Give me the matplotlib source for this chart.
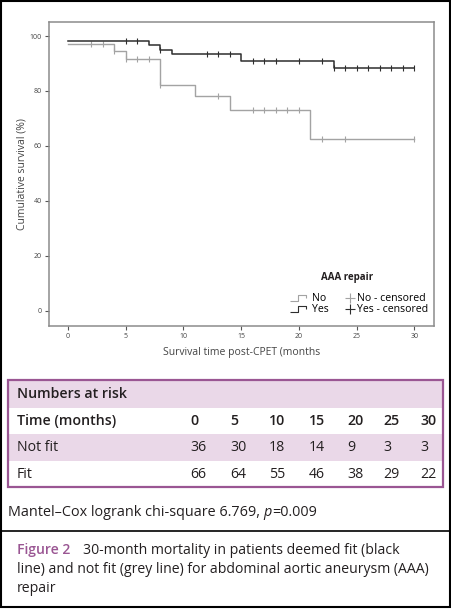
import matplotlib.pyplot as plt
import numpy as np
from matplotlib.lines import Line2D
from matplotlib.patches import Rectangle
from matplotlib.path import Path

plt.rcParams['font.family'] = ['Open Sans', 'DejaVu Sans']

# Kaplan-Meier curves: step times (months) and cumulative survival (%)
fit_t = [0, 7, 8, 9, 15, 23, 30]
fit_s = [98.3, 96.7, 95.0, 93.3, 91.0, 88.3, 88.3]
fit_cens = [5, 6, 8, 12, 13, 14, 16, 17, 18, 20, 22, 23, 24, 25, 26, 27, 28, 29, 30]

nofit_t = [0, 4, 5, 8, 11, 14, 21, 30]
nofit_s = [97.2, 94.4, 91.5, 82.2, 78.0, 72.9, 62.4, 62.4]
nofit_cens = [2, 3, 4, 5, 6, 7, 8, 13, 16, 17, 18, 19, 20, 22, 24, 30]

# numbers at risk table
risk_times = [0, 5, 10, 15, 20, 25, 30]
not_fit_risk = [36, 30, 18, 14, 9, 3, 3]
fit_risk = [66, 64, 55, 46, 38, 29, 22]

GREY = '#a3a3a3'
BLACK = '#2e2e2e'
PURPLE = '#9a5693'
PINK = '#ead8e8'
INK = '#231f20'

W, H = 451, 609
def fx(x):
    return x / W
def fy(y):
    return 1 - y / H

fig = plt.figure(figsize=(W / 100, H / 100), dpi=100)
ax = fig.add_axes([fx(49), fy(326), (434 - 49) / W, (326 - 22) / H])


def censor_levels(t, s, cens):
    idx = np.searchsorted(t, cens, side='right') - 1
    return np.array(s)[idx]


for t, s, cens, col, lw in [(nofit_t, nofit_s, nofit_cens, GREY, 1.0),
                            (fit_t, fit_s, fit_cens, BLACK, 1.1)]:
    ax.step(t, s, where='post', color=col, lw=lw)
    ax.plot(cens, censor_levels(t, s, cens), ls='none', marker='|',
            ms=5, mew=0.8, color=col)

ax.set_xlim(-1.65, 31.7)
ax.set_ylim(-5.6, 105.1)
ax.set_xticks(risk_times)
ax.set_yticks([0, 20, 40, 60, 80, 100])
ax.tick_params(labelsize=5, length=3, width=0.8, color='#555555',
               labelcolor='#444444', pad=2)
for sp in ax.spines.values():
    sp.set_color('#8c8c8c')
    sp.set_linewidth(1.1)
ax.set_ylabel('Cumulative survival (%)', fontsize=7.5, color='#444444', labelpad=2)
ax.set_xlabel('Survival time post-CPET (months', fontsize=7.5, color='#444444', labelpad=5)

# legend: two columns built as two legends
step_path = Path([(-1, -0.35), (0, -0.35), (0, 0.35), (1, 0.35), (1, 0)],
                 [Path.MOVETO, Path.LINETO, Path.LINETO, Path.LINETO, Path.LINETO])
line_handles = [
    Line2D([], [], ls='none', marker=step_path, ms=12, mew=0.8, mfc='none', mec=GREY),
    Line2D([], [], ls='none', marker=step_path, ms=12, mew=0.8, mfc='none', mec=BLACK),
]
cens_handles = [
    Line2D([], [], ls='none', marker='+', ms=7, mew=0.8, color=GREY),
    Line2D([], [], ls='none', marker='+', ms=7, mew=0.8, color=BLACK),
]
leg_kw = dict(fontsize=7.6, frameon=False, loc='lower left', borderpad=0,
              borderaxespad=0, labelspacing=0.0)
leg1 = ax.legend(line_handles, ['No', 'Yes'], bbox_to_anchor=(0.621, 0.035),
                 handlelength=1.8, handletextpad=0.45, **leg_kw)
ax.add_artist(leg1)
ax.legend(cens_handles, ['No - censored', 'Yes - censored'],
          bbox_to_anchor=(0.771, 0.035), handlelength=0.8, handletextpad=0.3, **leg_kw)
ax.text(0.774, 0.161, 'AAA repair', transform=ax.transAxes, ha='center',
        va='center', fontsize=7, fontweight='bold', color=INK)

# outer frame and divider
fig.add_artist(Rectangle((fx(1), fy(607)), fx(449), 606 / H, transform=fig.transFigure,
                         fill=False, ec='black', lw=1.5))
fig.add_artist(Line2D([fx(1), fx(450)], [fy(531), fy(531)], transform=fig.transFigure,
                      color='black', lw=1.2))

# numbers at risk table
rows = [380, 407.7, 434, 460.7, 487]
for i in range(4):
    if i % 2 == 0:
        fig.add_artist(Rectangle((fx(8), fy(rows[i + 1])), (443 - 8) / W,
                                 (rows[i + 1] - rows[i]) / H,
                                 transform=fig.transFigure, fc=PINK, ec='none'))
fig.add_artist(Rectangle((fx(8), fy(487)), (443 - 8) / W, (487 - 380) / H,
                         transform=fig.transFigure, fill=False, ec=PURPLE, lw=1.6))

col_x = [190, 230, 269, 309, 347, 383, 420]
fs = 10.2
fig.text(fx(17), fy(394), 'Numbers at risk', fontsize=fs, fontweight='semibold',
         va='center', color=INK)
fig.text(fx(17), fy(421), 'Time (months)', fontsize=fs, fontweight='semibold',
         va='center', color=INK)
fig.text(fx(17), fy(447.5), 'Not fit', fontsize=fs, va='center', color=INK)
fig.text(fx(17), fy(474), 'Fit', fontsize=fs, va='center', color=INK)
for x, tm, nf, f in zip(col_x, risk_times, not_fit_risk, fit_risk):
    fig.text(fx(x), fy(421), str(tm), fontsize=fs, fontweight='semibold',
             va='center', color=INK)
    fig.text(fx(x), fy(447.5), str(nf), fontsize=fs, va='center', color=INK)
    fig.text(fx(x), fy(474), str(f), fontsize=fs, va='center', color=INK)

renderer = fig.canvas.get_renderer()


def chain(x, y, parts, size):
    for txt, kw in parts:
        t = fig.text(fx(x), fy(y), txt, va='center', fontsize=size, color=INK, **kw)
        x += t.get_window_extent(renderer).width


chain(8, 513, [('Mantel\u2013Cox logrank chi-square 6.769, ', {}),
               ('p', {'style': 'italic'}), ('=0.009', {})], 10.4)

cs = 10.1
fig.text(fx(17), fy(550), 'Figure 2', fontsize=cs, fontweight='semibold',
         va='center', color=PURPLE)
fig.text(fx(83), fy(550), '30-month mortality in patients deemed fit (black',
         fontsize=cs, va='center', color=INK)
fig.text(fx(17), fy(569.5), 'line) and not fit (grey line) for abdominal aortic aneurysm (AAA)',
         fontsize=cs, va='center', color=INK)
fig.text(fx(17), fy(589), 'repair', fontsize=cs, va='center', color=INK)

fig.savefig('out.png', dpi=100)
